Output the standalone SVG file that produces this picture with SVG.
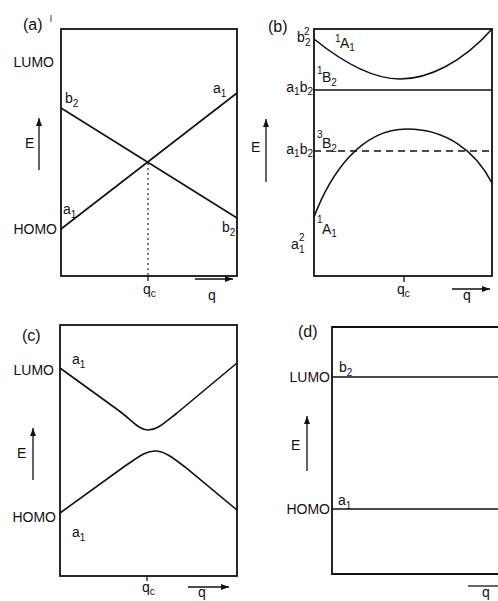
<svg xmlns="http://www.w3.org/2000/svg" width="498" height="601" viewBox="0 0 498 601">
<style>
text{font-family:"Liberation Sans",Arial,sans-serif;font-size:14px;fill:#111}
.t{font-size:16px}
.s{font-size:10px}
.box{fill:none;stroke:#111;stroke-width:1.8}
.ln{fill:none;stroke:#111;stroke-width:1.6}
.ax{fill:none;stroke:#111;stroke-width:1.3}
</style>
<defs>
<marker id="ah" viewBox="0 0 8 6" refX="8" refY="3" markerWidth="8" markerHeight="6" markerUnits="userSpaceOnUse" orient="auto">
<path d="M0,0 L8,3 L0,6 z" fill="#111"/>
</marker>
</defs>
<rect width="498" height="601" fill="#fff"/>

<g id="panel-a">
<rect class="box" x="61" y="29" width="176" height="247"/>
<text class="t" x="23" y="30">(a)</text>
<line x1="51" y1="15" x2="51" y2="22" stroke="#111" stroke-width="0.8"/>
<text x="54" y="67" text-anchor="end">LUMO</text>
<text x="57" y="234" text-anchor="end">HOMO</text>
<text x="65" y="103">b<tspan class="s" dy="4">2</tspan></text>
<text x="213" y="93">a<tspan class="s" dy="4">1</tspan></text>
<text x="63" y="214">a<tspan class="s" dy="4">1</tspan></text>
<text x="222" y="232">b<tspan class="s" dy="4">2</tspan></text>
<text x="25" y="148">E</text>
<line class="ax" x1="39" y1="170" x2="39" y2="118" marker-end="url(#ah)"/>
<line class="ln" x1="61" y1="108" x2="237" y2="218"/>
<line class="ln" x1="61" y1="229" x2="237" y2="93"/>
<line x1="148" y1="163" x2="148" y2="276" stroke="#111" stroke-width="1.1" stroke-dasharray="2 3"/>
<line class="ax" x1="148" y1="276" x2="148" y2="281"/>
<text x="143" y="294">q<tspan class="s" dy="3">c</tspan></text>
<line class="ax" x1="195" y1="279" x2="233" y2="279" marker-end="url(#ah)"/>
<text x="208" y="300">q</text>
</g>

<g id="panel-b">
<rect class="box" x="314" y="29" width="178" height="247"/>
<text class="t" x="268" y="32">(b)</text>
<text x="297" y="42">b</text>
<text class="s" x="304" y="35">2</text>
<text class="s" x="305" y="46">2</text>
<text class="s" x="335" y="42">1</text>
<text x="340" y="48">A<tspan class="s" dy="3">1</tspan></text>
<text class="s" x="317" y="74">1</text>
<text x="322" y="82">B<tspan class="s" dy="4">2</tspan></text>
<text x="313" y="92" text-anchor="end">a<tspan class="s" dy="3">1</tspan><tspan dy="-3">b</tspan><tspan class="s" dy="3">2</tspan></text>
<text class="s" x="317" y="138">3</text>
<text x="322" y="148">B<tspan class="s" dy="4">2</tspan></text>
<text x="313" y="154" text-anchor="end">a<tspan class="s" dy="3">1</tspan><tspan dy="-3">b</tspan><tspan class="s" dy="3">2</tspan></text>
<text class="s" x="317" y="223">1</text>
<text x="322" y="234">A<tspan class="s" dy="3">1</tspan></text>
<text x="291" y="249">a</text>
<text class="s" x="299" y="241">2</text>
<text class="s" x="299" y="253">1</text>
<text x="251" y="152">E</text>
<line class="ax" x1="266" y1="182" x2="266" y2="119" marker-end="url(#ah)"/>
<path class="ln" d="M314,39 C345,64 375,79 400,79 C428,79 462,63 492,29"/>
<line class="ln" x1="314" y1="90" x2="492" y2="90"/>
<path class="ln" d="M314,217 C330,175 360,129 407,129 C445,129 475,150 492,183"/>
<line x1="314" y1="151" x2="492" y2="151" stroke="#111" stroke-width="1.3" stroke-dasharray="7 5"/>
<line class="ax" x1="404" y1="276" x2="404" y2="282"/>
<text x="397" y="294">q<tspan class="s" dy="3">c</tspan></text>
<line class="ax" x1="452" y1="289" x2="490" y2="289" marker-end="url(#ah)"/>
<text x="463" y="300">q</text>
</g>

<g id="panel-c">
<rect class="box" x="60" y="325" width="177" height="251"/>
<text class="t" x="22" y="341">(c)</text>
<text x="72" y="364">a<tspan class="s" dy="4">1</tspan></text>
<text x="54" y="375" text-anchor="end">LUMO</text>
<text x="56" y="522" text-anchor="end">HOMO</text>
<text x="72" y="537">a<tspan class="s" dy="4">1</tspan></text>
<text x="17" y="458">E</text>
<line class="ax" x1="33" y1="480" x2="33" y2="428" marker-end="url(#ah)"/>
<path class="ln" d="M60,368 L118,410 C133,421 139,430 148,430 C157,430 163,424 177,413 L237,363"/>
<path class="ln" d="M60,513 L125,466 C140,456 146,451 155,451 C164,451 172,457 185,467 L237,510"/>
<line class="ax" x1="147" y1="576" x2="147" y2="581"/>
<text x="142" y="592">q<tspan class="s" dy="3">c</tspan></text>
<line class="ax" x1="188" y1="587" x2="229" y2="587" marker-end="url(#ah)"/>
<text x="198" y="597">q</text>
</g>

<g id="panel-d">
<path class="box" d="M500,327 L332,327 L332,574 L500,574"/>
<text class="t" x="298" y="337">(d)</text>
<text x="339" y="372">b<tspan class="s" dy="4">2</tspan></text>
<text x="330" y="382" text-anchor="end">LUMO</text>
<text x="338" y="505">a<tspan class="s" dy="4">1</tspan></text>
<text x="330" y="514" text-anchor="end">HOMO</text>
<text x="291" y="450">E</text>
<line class="ax" x1="307" y1="471" x2="307" y2="416" marker-end="url(#ah)"/>
<line class="ln" x1="332" y1="377" x2="498" y2="377"/>
<line class="ln" x1="332" y1="509" x2="498" y2="509"/>
<line class="ax" x1="468" y1="586" x2="500" y2="586"/>
<text x="482" y="597">q</text>
</g>
</svg>
